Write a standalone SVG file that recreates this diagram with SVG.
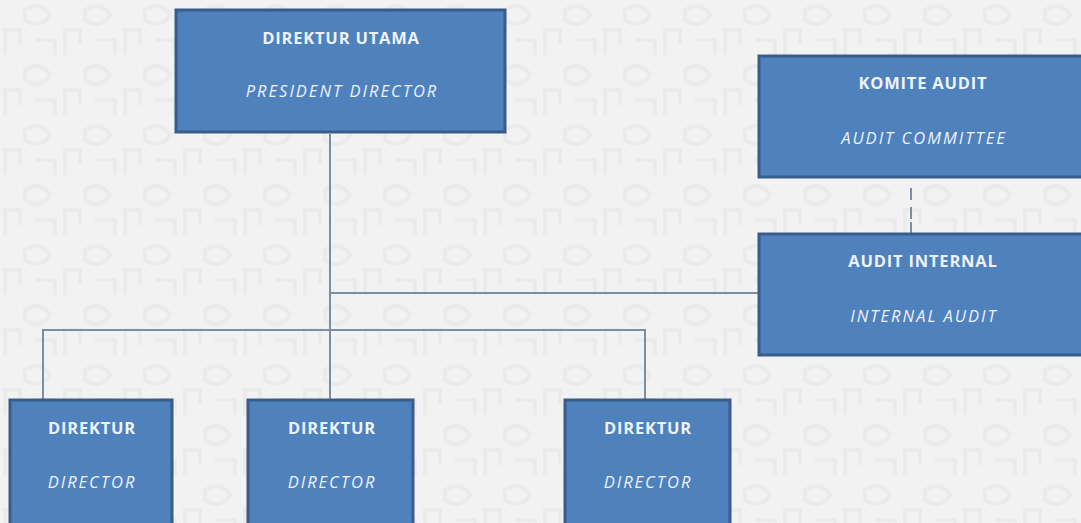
<svg xmlns="http://www.w3.org/2000/svg" width="1081" height="523" viewBox="0 0 1081 523">
<defs>
<style>
.box{fill:#4f81bd;stroke:#385d8a;stroke-width:3}
.t{font-family:"Open Sans","Liberation Sans",sans-serif;font-size:16.5px;fill:#eef3fa;text-anchor:middle}
.b{font-weight:bold;letter-spacing:0.8px}
.i{font-style:italic;letter-spacing:2px}
.ln{stroke:#7d8ea3;stroke-width:2;fill:none}
</style>
<pattern id="bg" width="60" height="60" patternUnits="userSpaceOnUse">
<rect width="60" height="60" fill="#f2f2f2"/>
<path d="M5 55 V30 H20 V45 M25 10 Q40 0 50 15 Q40 30 25 20 Z M35 40 H55 V55" stroke="#ebebeb" stroke-width="4" fill="none"/>
</pattern>
</defs>
<rect width="1081" height="523" fill="url(#bg)"/>
<g id="connectors">
<line class="ln" x1="330" y1="134" x2="330" y2="399"/>
<line class="ln" x1="330" y1="293" x2="758" y2="293"/>
<polyline class="ln" points="43,399 43,330 645,330 645,399"/>
<line class="ln" x1="911" y1="188" x2="911" y2="222" stroke-dasharray="12,7"/>
<line class="ln" x1="911" y1="222" x2="911" y2="233"/>
</g>
<g id="direktur-utama">
<rect class="box" x="176" y="10" width="329" height="122"/>
<text class="t b" x="341" y="44">DIREKTUR UTAMA</text>
<text class="t i" x="342" y="97">PRESIDENT DIRECTOR</text>
</g>
<g id="komite-audit">
<rect class="box" x="759" y="56" width="330" height="121"/>
<text class="t b" x="923" y="89">KOMITE AUDIT</text>
<text class="t i" x="924" y="144">AUDIT COMMITTEE</text>
</g>
<g id="audit-internal">
<rect class="box" x="759" y="234" width="330" height="121"/>
<text class="t b" x="923" y="267">AUDIT INTERNAL</text>
<text class="t i" x="924" y="322">INTERNAL AUDIT</text>
</g>
<g id="direktur-1">
<rect class="box" x="10" y="400" width="162" height="130"/>
<text class="t b" x="92" y="434">DIREKTUR</text>
<text class="t i" x="92" y="488">DIRECTOR</text>
</g>
<g id="direktur-2">
<rect class="box" x="248" y="400" width="165" height="130"/>
<text class="t b" x="332" y="434">DIREKTUR</text>
<text class="t i" x="332" y="488">DIRECTOR</text>
</g>
<g id="direktur-3">
<rect class="box" x="565" y="400" width="165" height="130"/>
<text class="t b" x="648" y="434">DIREKTUR</text>
<text class="t i" x="648" y="488">DIRECTOR</text>
</g>
</svg>
